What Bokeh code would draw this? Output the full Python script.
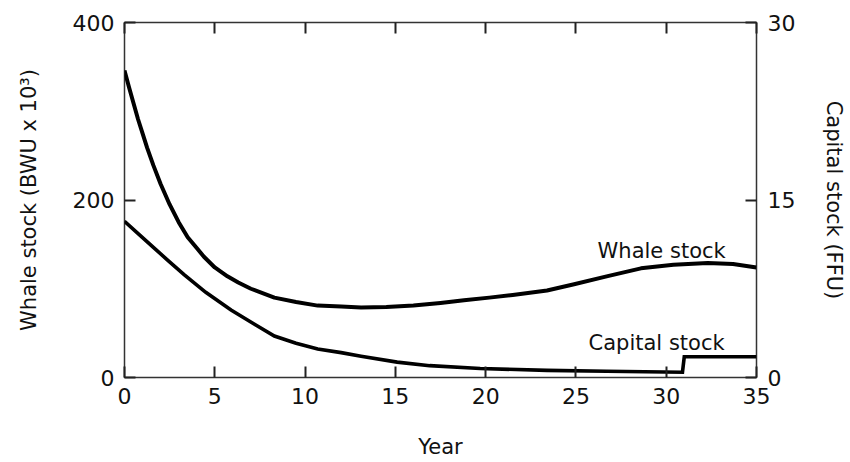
from bokeh.plotting import figure
from bokeh.models import Range1d, LinearAxis, FixedTicker
from bokeh.core.properties import value
from bokeh.embed import file_html
from bokeh.resources import INLINE

# ---- data ----
years_whale = [0, 0.25, 0.5, 0.75, 1.0, 1.25, 1.6, 2.0, 2.5, 3.0, 3.5, 4.0, 4.4, 5.0,
               5.7, 6.3, 7.0, 8.3, 9.5, 10.7, 12.0, 13.1, 14.5, 16.0, 17.5,
               18.8, 20.2, 21.5, 23.4, 24.9, 26.7, 28.6, 30.4, 32.3, 33.7, 35.0]
whale_stock = [346, 327, 309, 291, 275, 259, 239, 218, 195, 175, 158, 146, 136, 124,
               114, 107, 100, 90, 85, 81, 80, 79, 79.5, 81, 84,
               87, 90, 93, 98, 105, 114, 123, 127, 129, 128, 124]

years_capital = [0, 0.8, 1.6, 2.4, 3.3, 4.5, 5.9, 7.2, 8.3, 9.5, 10.7, 12.0, 13.1,
                 15.1, 16.9, 19.7, 23.4, 26.7, 30.9, 31.0, 35.0]
capital_stock = [13.2, 12.1, 11.0, 9.9, 8.7, 7.2, 5.7, 4.5, 3.5, 2.9, 2.4, 2.1, 1.8,
                 1.3, 1.0, 0.76, 0.6, 0.53, 0.45, 1.75, 1.75]

year_ticks = [0, 5, 10, 15, 20, 25, 30, 35]
whale_ticks = [0, 200, 400]
capital_ticks = [0, 15, 30]

FONT = "DejaVu Sans"
FS = "21px"
TFS = "22px"
INK = "#111111"
FRAME = "#333333"

p = figure(width=850, height=461, output_backend="svg", toolbar_location=None,
           x_range=Range1d(0, 35), y_range=Range1d(0, 400),
           min_border_left=124, min_border_right=94,
           min_border_top=22, min_border_bottom=83,
           background_fill_color="white", border_fill_color="white")
p.extra_y_ranges = {"cap": Range1d(0, 30)}
p.grid.visible = False
p.outline_line_color = FRAME
p.outline_line_width = 1.5


def style_axis(ax, ticks, label_standoff=12, show_labels=True):
    ax.ticker = FixedTicker(ticks=ticks)
    ax.axis_line_color = None
    ax.major_tick_in = 11
    ax.major_tick_out = 0
    ax.major_tick_line_color = "#222222"
    ax.major_tick_line_width = 2
    ax.minor_tick_line_color = None
    ax.major_label_standoff = label_standoff
    ax.major_label_text_font = FONT
    if show_labels:
        ax.major_label_text_font_size = TFS
        ax.major_label_text_color = INK
    else:
        ax.major_label_text_font_size = "1px"
        ax.major_label_text_color = None
    ax.axis_label_text_font = FONT
    ax.axis_label_text_font_size = FS
    ax.axis_label_text_font_style = "normal"
    ax.axis_label_text_color = INK


xa = p.xaxis[0]
style_axis(xa, year_ticks, label_standoff=10)
xa.axis_label = "Year"
xa.axis_label_standoff = 28

ya = p.yaxis[0]
style_axis(ya, whale_ticks, label_standoff=10)
ya.axis_label = "Whale stock (BWU x 10³)"
ya.axis_label_standoff = 29

ra = LinearAxis(y_range_name="cap")
style_axis(ra, capital_ticks, label_standoff=11)
ra.axis_label = "Capital stock (FFU)"
ra.axis_label_standoff = 24
p.add_layout(ra, "right")

ta = LinearAxis()
style_axis(ta, year_ticks, label_standoff=0, show_labels=False)
p.add_layout(ta, "above")

p.line(years_whale, whale_stock, line_color="black", line_width=4, line_join="round")
p.line(years_capital, capital_stock, y_range_name="cap", line_color="black",
       line_width=3.6, line_join="miter")

p.text(x=[26.2], y=[143], text=["Whale stock"], text_font=value(FONT),
       text_font_size=FS, text_color=INK, text_baseline="alphabetic", text_align="left")
p.text(x=[25.7], y=[39], text=["Capital stock"], text_font=value(FONT),
       text_font_size=FS, text_color=INK, text_baseline="alphabetic", text_align="left")

open("out.html", "w").write(file_html(p, INLINE))
